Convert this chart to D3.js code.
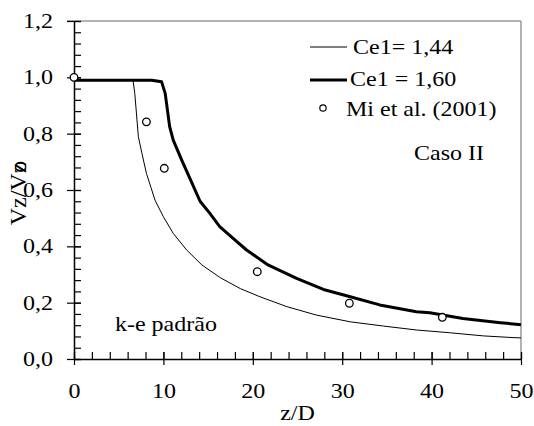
<!DOCTYPE html>
<html>
<head>
<meta charset="utf-8">
<script src="https://cdn.jsdelivr.net/npm/d3@7"></script>
<style>
  html, body { margin: 0; padding: 0; background: #fff; }
  svg { display: block; }
  text { font-family: "Liberation Serif", "Times New Roman", serif; fill: #000; }
</style>
</head>
<body>
<svg id="chart" width="534" height="426"></svg>
<script>
// Axial centreline velocity decay, Vz/Vzo against z/D
const zCe144 = [0, 6.6, 6.8, 7.2, 7.6, 8.1, 8.6, 9.06, 10.0, 11.1, 12.6, 14.3, 16.4, 18.6, 20.8, 23.8, 27.1, 30.9, 34.6, 38.3, 42.1, 45.8, 49.1, 50];
const vCe144 = [0.99, 0.99, 0.943, 0.789, 0.73, 0.659, 0.61, 0.564, 0.505, 0.446, 0.387, 0.334, 0.288, 0.25, 0.221, 0.186, 0.156, 0.132, 0.117, 0.103, 0.093, 0.082, 0.076, 0.075];

const zCe160 = [0, 8.7, 9.8, 10.2, 10.7, 11.1, 12.05, 13.0, 14.1, 15.2, 16.3, 17.8, 19.3, 21.7, 24.9, 27.9, 30.9, 34.2, 38.3, 39.8, 43.5, 47.7, 50];
const vCe160 = [0.99, 0.99, 0.984, 0.943, 0.825, 0.777, 0.706, 0.639, 0.56, 0.517, 0.47, 0.428, 0.387, 0.334, 0.286, 0.247, 0.221, 0.192, 0.168, 0.164, 0.144, 0.129, 0.122];

const zMi = [0, 8.1, 10.1, 20.5, 30.8, 41.2];
const vMi = [1.0, 0.842, 0.677, 0.31, 0.198, 0.148];

const xTicks = [0, 10, 20, 30, 40, 50];
const yTicks = [0, 0.2, 0.4, 0.6, 0.8, 1.0, 1.2];

const SX = 1.2;   // horizontal stretch of the serif lettering
const FS = 20;

const svg = d3.select("#chart");
const x = d3.scaleLinear().domain([0, 50]).range([74, 521]);
const y = d3.scaleLinear().domain([0, 1.2]).range([359, 21]);

const locale = d3.formatLocale({ decimal: ",", thousands: ".", grouping: [3], currency: ["", ""] });
const fmtY = locale.format(".1f");

// move a text's x/y into a transform so the glyphs can be widened
function stretch(sel) {
  sel.each(function () {
    const t = d3.select(this);
    const tx = +t.attr("x") || 0, ty = +t.attr("y") || 0;
    t.attr("x", 0).attr("y", 0).attr("transform", `translate(${tx},${ty}) scale(${SX},1)`);
  });
}
function label(px, py, str) {
  return svg.append("text").attr("x", px).attr("y", py).attr("font-size", FS).text(str).call(stretch);
}

// top and right frame
svg.append("line").attr("x1", 67).attr("x2", x(50)).attr("y1", y(1.2)).attr("y2", y(1.2))
  .attr("stroke", "#9a9a9a").attr("stroke-width", 1.5);
svg.append("line").attr("x1", x(50)).attr("x2", x(50)).attr("y1", y(1.2)).attr("y2", y(0))
  .attr("stroke", "#9a9a9a").attr("stroke-width", 1.5);

// minor ticks (inside)
svg.append("g").attr("transform", `translate(0,${y(0)})`)
  .call(d3.axisBottom(x).tickValues(d3.range(0, 51, 2)).tickSize(-7).tickFormat(""))
  .call(g => g.select(".domain").remove())
  .call(g => g.selectAll("line").attr("stroke", "#000").attr("stroke-width", 1.2));
svg.append("g").attr("transform", `translate(${x(0)},0)`)
  .call(d3.axisLeft(y).tickValues(d3.range(0, 1.201, 0.04)).tickSize(-7).tickFormat(""))
  .call(g => g.select(".domain").remove())
  .call(g => g.selectAll("line").attr("stroke", "#000").attr("stroke-width", 1.2));

// major ticks and labels
const gx = svg.append("g").attr("transform", `translate(0,${y(0)})`)
  .call(d3.axisBottom(x).tickValues(xTicks).tickSizeInner(6).tickSizeOuter(0).tickPadding(19).tickFormat(d3.format("d")));
gx.select(".domain").attr("stroke", "#000").attr("stroke-width", 1.5);
gx.selectAll(".tick line").attr("y1", -7).attr("stroke", "#000").attr("stroke-width", 1.2);
gx.selectAll(".tick text").attr("font-size", FS).attr("font-family", null).call(stretch);

const gy = svg.append("g").attr("transform", `translate(${x(0)},0)`)
  .call(d3.axisLeft(y).tickValues(yTicks).tickSizeInner(7).tickSizeOuter(0).tickPadding(14).tickFormat(fmtY));
gy.select(".domain").attr("stroke", "#000").attr("stroke-width", 1.5);
gy.selectAll(".tick line").attr("x1", 7).attr("stroke", "#000").attr("stroke-width", 1.2);
gy.selectAll(".tick text").attr("font-size", FS).attr("font-family", null).call(stretch);

// curves
const line = d3.line().x(d => x(d[0])).y(d => y(d[1]));
svg.append("path").datum(d3.zip(zCe144, vCe144)).attr("d", line)
  .attr("fill", "none").attr("stroke", "#000").attr("stroke-width", 1);
svg.append("path").datum(d3.zip(zCe160, vCe160)).attr("d", line)
  .attr("fill", "none").attr("stroke", "#000").attr("stroke-width", 3).attr("stroke-linejoin", "round");

// measurements
svg.append("g").selectAll("circle").data(d3.zip(zMi, vMi)).join("circle")
  .attr("cx", d => x(d[0])).attr("cy", d => y(d[1])).attr("r", 3.8)
  .attr("fill", "#fff").attr("stroke", "#000").attr("stroke-width", 1.3);

// legend
svg.append("line").attr("x1", 310).attr("x2", 347).attr("y1", 47).attr("y2", 47).attr("stroke", "#000").attr("stroke-width", 1);
label(353, 54, "Ce1= 1,44");
svg.append("line").attr("x1", 310).attr("x2", 347).attr("y1", 80).attr("y2", 80).attr("stroke", "#000").attr("stroke-width", 3);
label(350, 86, "Ce1 = 1,60");
svg.append("circle").attr("cx", 323).attr("cy", 108).attr("r", 3.2).attr("fill", "#fff").attr("stroke", "#000").attr("stroke-width", 1.2);
label(346, 116, "Mi et al. (2001)");
label(414, 160, "Caso II");
label(115, 331, "k-e padrão");

// axis titles
svg.append("text").attr("x", x(25)).attr("y", 420).attr("text-anchor", "middle").attr("font-size", FS).text("z/D").call(stretch);
const yt = svg.append("text").attr("transform", "translate(26,193) rotate(-90)")
  .attr("text-anchor", "middle").attr("font-size", 24);
yt.append("tspan").text("Vz/Vz");
yt.append("tspan").attr("dx", -10).text("o");
</script>
</body>
</html>
